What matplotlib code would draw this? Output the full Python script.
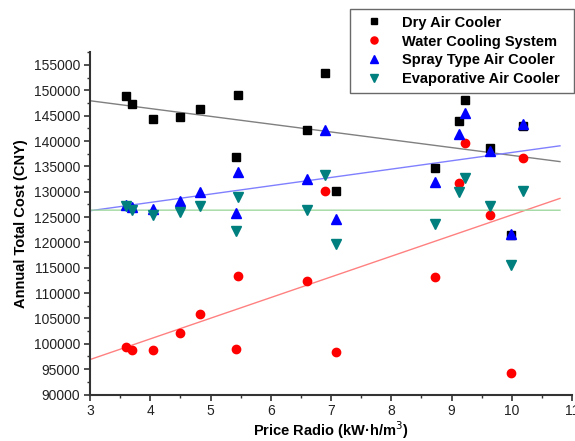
import matplotlib
matplotlib.use("Agg")
import matplotlib.pyplot as plt
import numpy as np
from matplotlib.ticker import MultipleLocator

plt.rcParams['font.family'] = ['Liberation Sans', 'DejaVu Sans']

# --- data ---
series_names = ["Dry Air Cooler", "Water Cooling System", "Spray Type Air Cooler", "Evaporative Air Cooler"]
price_ratio = [3.6, 3.7, 4.05, 4.5, 4.82, 5.46, 5.42, 6.6, 6.9, 7.08, 8.72, 9.12, 9.22, 9.64, 9.99, 10.19]
dry_air = [148900, 147300, 144400, 144800, 146400, 149000, 136800, 142100, 153400, 130200, 134700, 144000, 148100, 138700, 121500, 142900]
water_cooling = [99400, 98700, 98700, 102100, 105900, 113300, 99000, 112400, 130200, 98400, 113100, 131700, 139700, 125400, 94300, 136600]
spray_type = [127400, 127000, 126600, 128200, 130000, 133900, 125800, 132500, 142100, 124600, 132000, 141400, 145500, 138100, 121600, 143400]
evaporative = [127100, 126300, 125400, 126000, 127100, 129000, 122300, 126400, 133300, 119700, 123600, 129900, 132700, 127100, 115600, 130200]

colors = ["#000000", "#ff0000", "#0000ff", "#007f7f"]
line_colors = ["#808080", "#ff8080", "#8080ff", "#a0d8a0"]
markers = ["s", "o", "^", "v"]
sizes = [5.5, 6, 6.5, 6.5]

fig = plt.figure(figsize=(5.75, 4.41), dpi=100)
ax = fig.add_axes([90/575, 46.5/441, 482/575, 342.2/441])

all_series = [dry_air, water_cooling, spray_type, evaporative]
x_arr = np.array(price_ratio, dtype=float)
handles = []
for name, ys, c, lc, m, s in zip(series_names, all_series, colors, line_colors, markers, sizes):
    y = np.array(ys, dtype=float)
    h, = ax.plot(x_arr, y, linestyle='none', marker=m, color=c, markersize=s, zorder=3, label=name)
    handles.append(h)
    k, b = np.polyfit(x_arr, y, 1)
    xf = np.array([3.0, 10.8])
    ax.plot(xf, k * xf + b, color=lc, linewidth=1.0, zorder=2)

ax.set_xlim(3, 11)
ax.set_ylim(90000, 157500)
ax.xaxis.set_major_locator(MultipleLocator(1))
ax.xaxis.set_minor_locator(MultipleLocator(0.5))
ax.yaxis.set_major_locator(MultipleLocator(5000))
ax.yaxis.set_minor_locator(MultipleLocator(2500))
for sp in ['top', 'right']:
    ax.spines[sp].set_visible(False)
for sp in ['left', 'bottom']:
    ax.spines[sp].set_color('#333333')
    ax.spines[sp].set_linewidth(1.5)
ax.tick_params(which='major', direction='out', length=4, width=1.2, color='#333333',
               labelsize=10, labelcolor='#222222', pad=3)
ax.tick_params(which='minor', direction='out', length=2.5, width=1.0, color='#333333')

ax.set_xlabel("Price Radio (kW·h/m$^3$)", fontsize=10.5, fontweight='bold', labelpad=1)
ax.set_ylabel("Annual Total Cost (CNY)", fontsize=10.5, fontweight='bold', labelpad=4)

leg = fig.legend(handles=handles, loc='upper left',
                 bbox_to_anchor=(350/575, 1 - 91/441, 224/575, 82/441), mode='expand',
                 bbox_transform=fig.transFigure, frameon=True, fancybox=False,
                 prop={'weight': 'bold', 'size': 10.5}, handletextpad=0.71,
                 labelspacing=0.34, borderpad=0.45, handlelength=2.4, markerscale=0.85,
                 borderaxespad=0)
leg.get_frame().set_edgecolor('#444444')
leg.get_frame().set_linewidth(1.0)

fig.savefig("out.png", dpi=100)
